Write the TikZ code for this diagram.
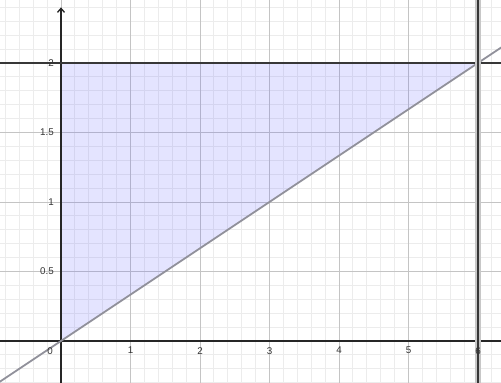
\documentclass[tikz,border=0pt]{standalone}
\usepackage{fontspec}
\setmainfont{Liberation Sans}
\usetikzlibrary{arrows.meta}
\definecolor{minorgrid}{RGB}{236,236,236}
\definecolor{majorgrid}{RGB}{196,196,196}
\definecolor{regionfill}{RGB}{90,90,255}
\definecolor{lineg}{RGB}{145,145,155}
\definecolor{darkl}{RGB}{55,55,55}
\tikzset{
  minor/.style={draw=minorgrid, line width=0.8pt},
  major/.style={draw=majorgrid, line width=0.8pt},
  region/.style={fill=regionfill, fill opacity=0.16},
  axisline/.style={draw=black!85, line width=1.3pt},
  graphline/.style={draw=lineg, line width=1.8pt},
  boundline/.style={draw=darkl, line width=1.8pt},
  halo/.style={draw=black!22, line width=5.5pt},
  xlab/.style={font=\fontsize{9.8}{11}\selectfont, text=black!80, inner sep=0pt, anchor=north, yshift=-6pt},
  ylab/.style={font=\fontsize{9.8}{11}\selectfont, text=black!80, inner sep=0pt, anchor=east, xshift=-7pt},
}
\begin{document}
\begin{tikzpicture}[x=69.5pt,y=139pt]
\coordinate (BL) at (-0.8777,-0.3022);
\coordinate (TR) at (6.331,2.4532);
\useasboundingbox (BL) rectangle (TR);
\begin{scope}
\clip (BL) rectangle (TR);
\draw[minor] (BL) grid[xstep=0.2,ystep=0.1] (TR);
\draw[major] (BL) grid[xstep=1,ystep=0.5] (TR);
\coordinate (O) at (0,0);
\coordinate (A) at (0,2);
\coordinate (B) at (6,2);
\fill[region] (O) -- (A) -- (B) -- cycle;
% axes
\coordinate (xl) at (-0.8777,0);
\coordinate (xr) at (6.331,0);
\coordinate (yb) at (0,-0.3022);
\coordinate (yt) at (0,2.40);
\draw[axisline] (xl) -- (xr);
\draw[axisline,-{Straight Barb[length=4pt,width=7pt]}] (yb) -- (yt);
% line y = x/3
\coordinate (g1) at (-0.95,-0.3167);
\coordinate (g2) at (6.40,2.1333);
\draw[graphline] (g1) -- (g2);
% y = 2
\coordinate (h1) at (-0.8777,2);
\coordinate (h2) at (6.331,2);
\draw[boundline] (h1) -- (h2);
% x = 6
\coordinate (v1) at (6,-0.31);
\coordinate (v2) at (6,2.46);
\draw[halo] (v1) -- (v2);
\draw[boundline] (v1) -- (v2);
\end{scope}
% tick labels
\node[xlab, anchor=north east, xshift=-8pt] (l0) at (0,0) {0};
\foreach \k in {1,...,6} { \node[xlab] (lx\k) at (\k,0) {\k}; }
\node[ylab] (ly1) at (0,0.5) {0.5};
\node[ylab] (ly2) at (0,1) {1};
\node[ylab] (ly3) at (0,1.5) {1.5};
\node[ylab] (ly4) at (0,2) {2};
\end{tikzpicture}
\end{document}
